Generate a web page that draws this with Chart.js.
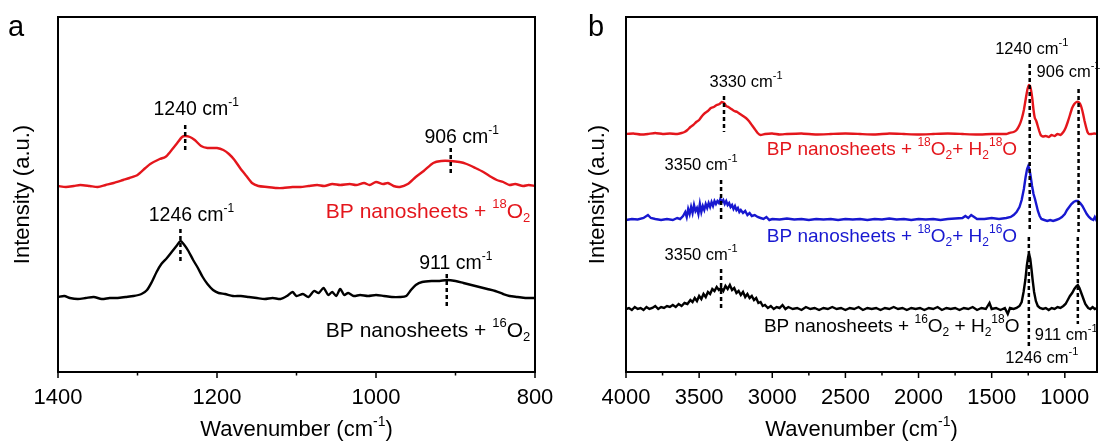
<!DOCTYPE html>
<html>
<head>
<meta charset="utf-8">
<script src="https://cdn.jsdelivr.net/npm/chart.js@4.4.0/dist/chart.umd.min.js"></script>
<style>
  html, body { margin: 0; padding: 0; background: #fff; overflow: hidden; }
  #wrap { position: relative; width: 1102px; height: 444px; }
  canvas { position: absolute; top: 0; }
  #chartA { left: 0; }
  #chartB { left: 560px; }
</style>
</head>
<body>
<div id="wrap">
  <canvas id="chartA" width="560" height="444"></canvas>
  <canvas id="chartB" width="542" height="444"></canvas>
</div>
<script>
const FONT = '"Liberation Sans", Arial, sans-serif';
const RED = '#e4161c';
const BLUE = '#1818d0';
const BLACK = '#000000';

// ---- panel a: [wavenumber, intensity] ----
const aRed18O2 = [
  [1400,186],[1390,185],[1380,186],[1372,187],[1360,186],[1350,185],[1340,187],[1330,189],
  [1318,192],[1310,194],[1300,197],[1290,204],[1284,208],[1272,213],[1265,215],[1259,220],
  [1250,229],[1244,235],[1240,236],[1234,235],[1228,232],[1220,226],[1212,224],[1200,224],
  [1192,222],[1185,218],[1178,212],[1171,204],[1163,196],[1156,189],[1148,186],[1137,185],
  [1125,184],[1117,184],[1105,185],[1095,185],[1085,186],[1074,187],[1065,186],[1055,188],
  [1045,187],[1033,188],[1025,187],[1015,189],[1008,187],[1000,190],[991,188],[985,189],
  [978,186],[970,185],[960,188],[950,195],[940,201],[928,209],[918,211],[906,211],
  [895,210],[886,208],[875,204],[865,200],[855,195],[848,192],[840,190],[832,187],
  [825,188],[815,186],[808,187],[800,186]
];
const aBlack16O2 = [
  [1400,75],[1392,76],[1385,74],[1375,73],[1365,74],[1355,75],[1345,73],[1335,74],
  [1325,74],[1315,75],[1305,76],[1295,78],[1288,82],[1282,90],[1276,100],[1270,108],
  [1263,114],[1256,121],[1250,127],[1246,131],[1242,128],[1236,121],[1230,112],[1224,104],
  [1218,95],[1212,88],[1205,82],[1198,79],[1190,78],[1180,76],[1170,76],[1160,75],
  [1150,74],[1140,73],[1130,74],[1120,73],[1112,76],[1105,80],[1100,76],[1092,78],
  [1085,75],[1078,81],[1072,79],[1066,84],[1060,77],[1055,80],[1050,76],[1045,83],
  [1040,77],[1035,79],[1028,76],[1020,77],[1010,76],[1000,77],[990,76],[980,75],
  [970,75],[962,76],[956,82],[950,87],[942,90],[930,91],[920,91],[911,92],
  [900,91],[890,89],[880,87],[870,85],[860,83],[850,81],[840,78],[832,76],
  [822,75],[812,74],[800,74]
];
const aTicksMajor = [1400, 1200, 1000, 800];
const aTicksMinor = [1300, 1100, 900];
const aPeaks = [1240, 906, 1246, 911];

// ---- panel b ----
const bRed = [
  [4000,238],[3950,238.5],[3900,237.5],[3850,238],[3800,239],[3750,238],[3700,238.5],[3650,238],
  [3620,239],[3600,240],[3580,242],[3560,245],[3540,247],[3520,250],[3500,252],[3480,256],
  [3460,259],[3440,261],[3420,264],[3400,265],[3380,267],[3360,268],[3345,270],[3330,269],
  [3315,266],[3300,265],[3280,263],[3260,261],[3240,260],[3220,258],[3200,256],[3180,254],
  [3160,251],[3140,247],[3120,243],[3100,239],[3080,237],[3050,238],[3000,238.5],[2950,237.5],
  [2900,238],[2800,238.5],[2700,237.5],[2600,238],[2500,238.5],[2400,238],[2300,237.5],[2200,238.5],
  [2100,238],[2000,237.5],[1900,238],[1800,238.5],[1700,238],[1600,237.5],[1500,238],[1400,238],
  [1380,239],[1350,240],[1330,242],[1310,247],[1295,253],[1280,262],[1265,275],[1255,283],
  [1245,287],[1238,286],[1230,281],[1222,273],[1214,262],[1205,254],[1195,251],[1185,246],
  [1175,241],[1165,237],[1150,235.5],[1130,236],[1110,235],[1090,237],[1070,236],[1050,238],
  [1030,237],[1010,240],[995,244],[980,250],[965,257],[950,264],[935,268],[920,270],
  [906,270],[895,268],[885,264],[875,258],[865,251],[855,245],[845,240],[835,238],
  [820,238],[800,238.5],[780,238]
];
const bBlue = [
  [4000,152],[3960,153],[3920,152.5],[3880,154],[3850,157],[3830,154],[3800,153],[3760,152],
  [3720,153],[3680,152],[3650,154],[3630,153],[3610,156],[3595,160],[3585,155],[3575,163],
  [3565,158],[3555,165],[3545,159],[3535,167],[3525,161],[3515,164],[3505,158],[3495,168],
  [3485,160],[3475,166],[3465,162],[3455,168],[3445,164],[3435,169],[3425,165],[3415,170],
  [3405,166],[3395,171],[3385,168],[3375,171],[3365,169],[3355,173],[3345,170],[3335,172],
  [3325,168],[3315,171],[3305,167],[3295,169],[3285,165],[3275,167],[3265,163],[3255,166],
  [3245,162],[3235,164],[3225,160],[3215,162],[3200,159],[3185,161],[3170,157],[3155,159],
  [3140,156],[3120,157],[3100,155],[3080,154],[3060,153],[3040,155],[3020,152],[3000,153],
  [2950,152.5],[2900,153.5],[2850,152.5],[2800,153],[2750,152],[2700,153],[2650,152.5],[2600,153],
  [2550,152],[2500,153],[2450,152.5],[2400,153],[2350,152],[2300,153],[2250,152.5],[2200,153.5],
  [2150,152.5],[2100,153],[2050,152],[2000,153],[1950,152.5],[1900,153],[1850,152],[1800,153],
  [1750,153.5],[1700,154],[1680,156],[1660,154],[1640,157],[1620,155],[1600,153],[1550,153],
  [1500,154],[1450,153],[1400,154],[1370,155],[1350,157],[1330,160],[1310,165],[1295,172],
  [1280,183],[1268,195],[1258,203],[1250,206],[1242,203],[1234,196],[1224,186],[1214,178],
  [1204,173],[1194,167],[1184,161],[1172,156],[1160,153],[1140,152],[1120,151],[1100,152],
  [1080,151],[1060,152],[1040,153],[1020,155],[1000,158],[985,162],[970,165],[955,168],
  [940,170],[925,171],[910,171],[895,169],[880,166],[865,162],[850,158],[835,155],
  [820,153],[805,152],[795,155],[785,152],[780,153]
];
const bBlack = [
  [4000,63],[3980,64],[3960,62],[3940,65],[3920,63],[3900,64],[3880,62],[3860,65],
  [3840,63],[3820,64],[3800,66],[3780,63],[3760,65],[3740,64],[3720,66],[3700,65],
  [3680,67],[3660,65],[3640,68],[3620,66],[3600,69],[3580,68],[3560,72],[3545,70],
  [3530,74],[3515,71],[3500,76],[3485,73],[3470,78],[3455,75],[3440,80],[3425,78],
  [3410,83],[3395,81],[3380,85],[3365,82],[3350,84],[3335,81],[3320,86],[3305,83],
  [3290,87],[3275,82],[3260,84],[3245,79],[3230,81],[3215,77],[3200,80],[3185,75],
  [3170,78],[3155,74],[3140,76],[3125,72],[3110,74],[3095,69],[3080,70],[3065,66],
  [3050,67],[3030,64],[3010,66],[2990,63],[2970,65],[2950,64],[2930,67],[2910,63],
  [2890,65],[2860,63],[2830,64],[2800,62],[2770,65],[2740,63],[2710,64],[2680,62],
  [2650,64],[2620,63],[2590,65],[2560,63],[2530,64],[2500,62],[2470,64],[2440,63],
  [2410,65],[2380,62],[2350,64],[2320,63],[2290,64],[2260,62],[2230,64],[2200,63],
  [2170,65],[2140,63],[2110,64],[2080,62],[2050,64],[2020,63],[1990,64],[1960,62],
  [1930,64],[1900,63],[1870,65],[1840,62],[1810,64],[1780,63],[1750,64],[1720,62],
  [1690,64],[1660,63],[1630,65],[1600,62],[1570,64],[1540,63],[1515,69],[1500,63],
  [1470,64],[1440,62],[1410,64],[1390,58],[1375,64],[1350,63],[1330,64],[1310,66],
  [1295,70],[1282,80],[1270,92],[1260,106],[1250,116],[1244,118],[1236,113],[1228,103],
  [1220,92],[1210,80],[1198,71],[1185,66],[1170,64],[1150,63],[1130,64],[1110,62],
  [1090,64],[1070,63],[1050,65],[1030,64],[1010,66],[995,68],[980,72],[965,76],
  [950,79],[935,83],[920,86],[911,87],[900,84],[890,80],[880,76],[870,72],
  [860,68],[850,66],[840,64],[825,63],[810,65],[795,63],[780,64]
];
const bTicksMajor = [4000, 3500, 3000, 2500, 2000, 1500, 1000];
const bTicksMinor = [3750, 3250, 2750, 2250, 1750, 1250];
const bPeaks = [3330, 1240, 906, 3350, 3350, 1246, 911];

// draw a string with ^{..} superscripts and _{..} subscripts
function richText(ctx, str, x, y, size, color, align) {
  const segs = str.split(/(\^\{[^}]*\}|_\{[^}]*\})/).filter(s => s.length).map(p => {
    if (p.startsWith('^{')) return { t: p.slice(2, -1), k: 'sup' };
    if (p.startsWith('_{')) return { t: p.slice(2, -1), k: 'sub' };
    return { t: p, k: 'n' };
  });
  const small = Math.round(size * 0.64);
  let w = 0;
  segs.forEach(s => {
    ctx.font = (s.k === 'n' ? size : small) + 'px ' + FONT;
    s.w = ctx.measureText(s.t).width;
    w += s.w;
  });
  let cx = align === 'center' ? x - w / 2 : align === 'right' ? x - w : x;
  ctx.fillStyle = color;
  ctx.textBaseline = 'middle';
  ctx.textAlign = 'left';
  segs.forEach(s => {
    ctx.font = (s.k === 'n' ? size : small) + 'px ' + FONT;
    const dy = s.k === 'sup' ? -size * 0.36 : s.k === 'sub' ? size * 0.3 : 0;
    ctx.fillText(s.t, cx, y + dy);
    cx += s.w;
  });
}

function figurePlugin(cfg) {
  return {
    id: 'figure',
    afterDraw(chart) {
      const { ctx, chartArea: a } = chart;
      const x = chart.scales.x, y = chart.scales.y;
      ctx.save();
      ctx.strokeStyle = '#000';
      ctx.lineWidth = 2;
      ctx.strokeRect(a.left, a.top, a.right - a.left, a.bottom - a.top);
      ctx.lineWidth = 1.5;
      ctx.beginPath();
      cfg.major.forEach(v => { const p = x.getPixelForValue(v); ctx.moveTo(p, a.bottom); ctx.lineTo(p, a.bottom + 6); });
      cfg.minor.forEach(v => { const p = x.getPixelForValue(v); ctx.moveTo(p, a.bottom); ctx.lineTo(p, a.bottom + 3.5); });
      ctx.stroke();

      ctx.setLineDash([4, 3]);
      ctx.lineWidth = 2.5;
      cfg.marks.forEach(m => {
        const p = x.getPixelForValue(m.wn);
        ctx.beginPath();
        ctx.moveTo(p, y.getPixelForValue(m.from));
        ctx.lineTo(p, y.getPixelForValue(m.to));
        ctx.stroke();
      });
      ctx.setLineDash([]);

      cfg.notes.forEach(n => {
        richText(ctx, n.text, x.getPixelForValue(n.wn) + (n.dx || 0), y.getPixelForValue(n.h),
          n.size, n.color || BLACK, n.align || 'center');
      });

      richText(ctx, 'Wavenumber (cm^{-1})', (a.left + a.right) / 2, 430, 22, BLACK, 'center');
      ctx.save();
      ctx.translate(cfg.yTitleX, (a.top + a.bottom) / 2);
      ctx.rotate(-Math.PI / 2);
      richText(ctx, 'Intensity (a.u.)', 0, 0, 22, BLACK, 'center');
      ctx.restore();
      richText(ctx, cfg.letter, cfg.letterX, 28, 29, BLACK, 'center');
      ctx.restore();
    }
  };
}

function lineSet(points, color, tension) {
  return {
    data: points.map(p => ({ x: p[0], y: p[1] })),
    borderColor: color,
    borderWidth: 2.4,
    pointRadius: 0,
    tension: tension,
    fill: false
  };
}

function makeChart(id, datasets, xr, major, padRight, padLeft, plug) {
  return new Chart(document.getElementById(id), {
    type: 'line',
    data: { datasets },
    options: {
      responsive: false,
      animation: false,
      devicePixelRatio: 1,
      layout: { padding: { left: padLeft, right: padRight, top: 17, bottom: 0 } },
      plugins: { legend: { display: false }, tooltip: { enabled: false } },
      scales: {
        x: {
          type: 'linear',
          reverse: true,
          min: xr[0],
          max: xr[1],
          afterBuildTicks: s => { s.ticks = major.map(v => ({ value: v })); },
          afterFit: s => { s.height = 72; },
          grid: { display: false },
          border: { display: false },
          ticks: {
            autoSkip: false,
            maxRotation: 0,
            padding: 5,
            color: BLACK,
            font: { family: FONT, size: 22 },
            callback: v => String(v)
          }
        },
        y: { display: false, min: 0, max: 355 }
      }
    },
    plugins: [plug]
  });
}

const pA = aPeaks.map(p => p + ' cm^{-1}');
makeChart('chartA',
  [lineSet(aRed18O2, RED, 0.25), lineSet(aBlack16O2, BLACK, 0.25)],
  [800, 1400], aTicksMajor, 25, 58,
  figurePlugin({
    major: aTicksMajor, minor: aTicksMinor, yTitleX: 23, letter: 'a', letterX: 16,
    marks: [
      { wn: aPeaks[0], from: 247, to: 220 },
      { wn: aPeaks[1], from: 224, to: 197 },
      { wn: aPeaks[2], from: 143, to: 109 },
      { wn: aPeaks[3], from: 98, to: 66 }
    ],
    notes: [
      { text: pA[0], wn: aPeaks[0], h: 262, dx: 11, size: 19.5 },
      { text: pA[1], wn: aPeaks[1], h: 234, dx: 11, size: 19.5 },
      { text: pA[2], wn: aPeaks[2], h: 156, dx: 11, size: 19.5 },
      { text: pA[3], wn: aPeaks[3], h: 108, dx: 9, size: 19.5 },
      { text: 'BP nanosheets + ^{18}O_{2}', wn: 806, h: 160, size: 21, color: RED, align: 'right' },
      { text: 'BP nanosheets + ^{16}O_{2}', wn: 806, h: 41, size: 21, align: 'right' }
    ]
  }));

const pB = bPeaks.map(p => p + ' cm^{-1}');
makeChart('chartB',
  [lineSet(bRed, RED, 0.1), lineSet(bBlue, BLUE, 0), lineSet(bBlack, BLACK, 0)],
  [780, 4000], bTicksMajor, 5, 66,
  figurePlugin({
    major: bTicksMajor, minor: bTicksMinor, yTitleX: 38, letter: 'b', letterX: 36,
    marks: [
      { wn: bPeaks[0], from: 276, to: 240 },
      { wn: bPeaks[1], from: 308, to: 140 },
      { wn: bPeaks[2], from: 283, to: 140 },
      { wn: bPeaks[3], from: 192, to: 152 },
      { wn: bPeaks[4], from: 103, to: 62 },
      { wn: bPeaks[5], from: 135, to: 24 },
      { wn: bPeaks[6], from: 135, to: 48 }
    ],
    notes: [
      { text: pB[0], wn: bPeaks[0], h: 290, dx: 22, size: 16.5 },
      { text: pB[1], wn: bPeaks[1], h: 323, dx: 2, size: 16.5 },
      { text: pB[2], wn: bPeaks[2], h: 300, dx: -42, size: 16.5, align: 'left' },
      { text: pB[3], wn: bPeaks[3], h: 207, dx: -20, size: 16.5 },
      { text: pB[4], wn: bPeaks[4], h: 117, dx: -20, size: 16.5 },
      { text: pB[5], wn: bPeaks[5], h: 14, dx: 13, size: 16.5 },
      { text: pB[6], wn: bPeaks[6], h: 37, dx: -43, size: 16.5, align: 'left' },
      { text: 'BP nanosheets + ^{18}O_{2}+ H_{2}^{18}O', wn: 3037, h: 222, size: 19, color: RED, align: 'left' },
      { text: 'BP nanosheets + ^{18}O_{2}+ H_{2}^{16}O', wn: 3037, h: 135, size: 19, color: BLUE, align: 'left' },
      { text: 'BP nanosheets + ^{16}O_{2} + H_{2}^{18}O', wn: 3057, h: 45, size: 19, align: 'left' }
    ]
  }));
</script>
</body>
</html>
